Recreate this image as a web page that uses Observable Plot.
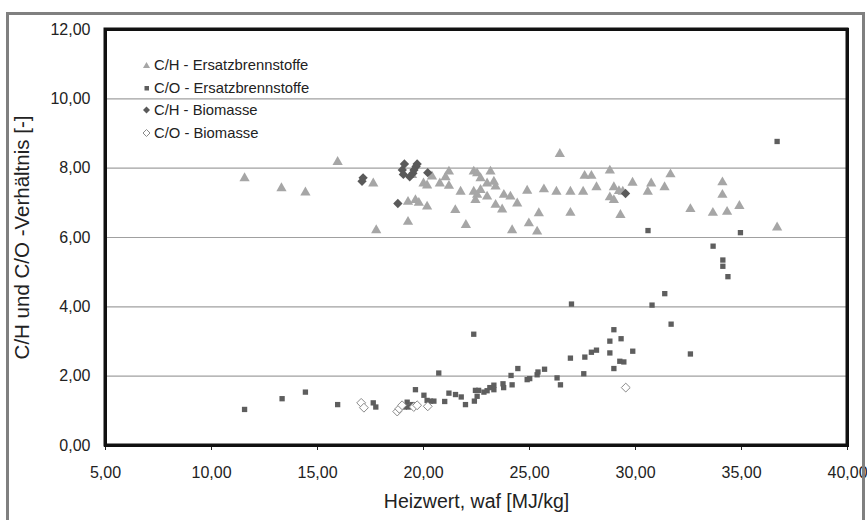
<!DOCTYPE html>
<html>
<head>
<meta charset="utf-8">
<script src="https://cdn.jsdelivr.net/npm/d3@7"></script>
<script src="https://cdn.jsdelivr.net/npm/@observablehq/plot@0.6"></script>
<style>
  html, body { margin: 0; padding: 0; background: #fff; }
  #wrap { position: relative; width: 867px; height: 520px; overflow: hidden; font-family: "Liberation Sans", Arial, sans-serif; }
  #border { position: absolute; left: 6px; top: 12px; width: 859px; height: 540px; border: 3px solid #808080; box-sizing: border-box; pointer-events: none; }
  #chart { position: absolute; left: 0; top: 0; }
  #legend { position: absolute; left: 140px; top: 54px; font-size: 14.8px; color: #222; line-height: 22.6px; }
  #legend div { display: flex; align-items: center; white-space: nowrap; }
  #legend svg { width: 13px; height: 12px; margin-right: 1px; }
</style>
</head>
<body>
<div id="wrap">
  <div id="chart"></div>
  <div id="legend"></div>
  <div id="border"></div>
</div>
<script>
// ---- data ----
const xDomain = [5, 40];
const yDomain = [0, 12];
const xTicks = [5, 10, 15, 20, 25, 30, 35, 40];
const yTicks = [0, 2, 4, 6, 8, 10, 12];
const gridY = [2, 4, 6, 8, 10];
const xTitle = "Heizwert, waf [MJ/kg]";
const yTitle = "C/H und C/O -Verhältnis [-]";
const seriesNames = ["C/H - Ersatzbrennstoffe", "C/O - Ersatzbrennstoffe", "C/H - Biomasse", "C/O - Biomasse"];

// C/H - Ersatzbrennstoffe (triangles)
const chEbsX = [11.56,13.3,14.43,15.95,17.63,17.77,19.27,19.27,19.46,19.62,19.78,20.0,20.17,20.17,20.4,20.77,21.04,21.2,21.2,21.5,21.75,22.0,22.37,22.53,22.69,22.37,22.53,22.45,22.69,23.16,23.0,23.32,23.4,23.0,23.4,23.79,24.1,23.71,24.42,24.18,24.89,25.44,24.97,25.36,25.68,26.27,26.43,26.93,26.93,27.53,27.6,27.92,28.16,28.79,28.79,28.98,28.98,29.22,29.29,29.4,29.86,30.58,30.74,31.37,31.65,32.59,33.65,34.1,34.1,34.32,34.9,36.68];
const chEbsY = [7.71,7.42,7.30,8.18,7.56,6.21,7.03,6.45,7.8,7.08,7.0,7.56,7.5,6.89,7.76,7.56,7.74,7.9,7.49,6.79,7.32,6.36,7.9,7.85,7.71,7.32,7.23,7.08,7.37,7.9,7.56,7.61,7.47,7.18,6.94,7.23,7.18,6.81,6.98,6.21,7.35,6.7,6.41,6.17,7.39,7.32,8.41,7.32,6.71,7.32,7.78,7.78,7.45,7.93,7.16,7.45,7.08,7.34,6.65,7.32,7.58,7.32,7.56,7.45,7.82,6.82,6.71,7.59,7.23,6.74,6.91,6.29];

// C/O - Ersatzbrennstoffe (squares)
const coEbsX = [11.56,13.33,14.43,15.95,17.63,17.75,19.1,19.23,19.3,19.46,19.62,20.02,20.17,20.33,20.49,20.72,21.0,21.2,21.51,21.78,21.98,22.37,22.4,22.53,22.45,22.6,22.85,23.0,23.13,23.32,23.32,23.75,23.78,24.13,24.18,24.45,24.89,25.01,25.36,25.4,25.71,26.3,26.46,26.93,26.98,27.56,27.61,27.92,28.16,28.79,28.79,28.98,28.98,29.26,29.32,29.45,29.87,30.59,30.78,31.38,31.68,32.59,33.66,34.12,34.12,34.36,34.95,36.68];
const coEbsY = [1.04,1.35,1.54,1.18,1.23,1.11,1.11,1.25,1.11,1.18,1.61,1.45,1.30,1.28,1.28,2.09,1.27,1.51,1.47,1.40,1.18,3.21,1.28,1.42,1.59,1.59,1.54,1.58,1.67,1.74,1.61,1.78,1.67,2.02,1.75,2.22,1.90,1.93,2.04,2.12,2.2,1.95,1.75,2.52,4.08,2.07,2.55,2.69,2.75,3.01,2.67,3.34,2.22,2.43,3.08,2.41,2.72,6.2,4.05,4.38,3.50,2.64,5.75,5.35,5.17,4.87,6.14,8.77];

// C/H - Biomasse (filled diamonds)
const chBioX = [17.1,17.15,18.79,19.0,19.05,19.1,19.35,19.5,19.55,19.65,19.7,20.2,29.53];
const chBioY = [7.62,7.72,6.98,7.95,7.82,8.12,7.75,7.85,7.95,8.05,8.12,7.87,7.27];

// C/O - Biomasse (open diamonds)
const coBioX = [17.06,17.19,18.76,18.86,18.99,19.54,19.7,20.2,29.54];
const coBioY = [1.23,1.09,0.98,1.06,1.16,1.11,1.16,1.13,1.67];

// ---- build ----
const zip = (xs, ys) => xs.map((x, i) => ({x, y: ys[i]}));
const fmt = d => d.toFixed(2).replace(".", ",");

const colTri = "#a6a6a6", colSq = "#5e5e5e", colDia = "#5a5a5a", colOpen = "#8a8a8a", colFrame = "#111111";

const chart = Plot.plot({
  width: 867,
  height: 520,
  marginLeft: 105,
  marginRight: 20,
  marginTop: 29,
  marginBottom: 75,
  style: {fontFamily: "'Liberation Sans', Arial, sans-serif", fontSize: "16px", color: "#222", background: "transparent"},
  x: {domain: xDomain},
  y: {domain: yDomain},
  marks: [
    Plot.ruleY(gridY, {stroke: "#a0a0a0", strokeWidth: 1.2}),
    Plot.axisX({ticks: xTicks, tickFormat: fmt, tickSize: 5, tickPadding: 16, label: null, fontSize: 16}),
    Plot.axisY({ticks: yTicks, tickFormat: fmt, tickSize: 0, tickPadding: 15, label: null, fontSize: 16}),
    Plot.dot(zip(chEbsX, chEbsY), {x: "x", y: "y", symbol: "triangle", r: 3.8, fill: colTri}),
    Plot.dot(zip(coEbsX, coEbsY), {x: "x", y: "y", symbol: "square", r: 3.0, fill: colSq}),
    Plot.dot(zip(chBioX, chBioY), {x: "x", y: "y", symbol: "diamond2", r: 4.2, fill: colDia}),
    Plot.dot(zip(coBioX, coBioY), {x: "x", y: "y", symbol: "diamond2", r: 4.0, fill: "white", stroke: colOpen, strokeWidth: 1}),
    Plot.text([xTitle], {frameAnchor: "bottom", lineAnchor: "middle", dy: 56, fontSize: 19.5, fill: "#222"}),
    Plot.text([yTitle], {frameAnchor: "left", textAnchor: "middle", lineAnchor: "middle", dx: -83, rotate: -90, fontSize: 20.5, fill: "#222"}),
    Plot.frame({stroke: colFrame, strokeWidth: 3, fill: "none"})
  ]
});
document.getElementById("chart").appendChild(chart);

// plot-area border drawn through the chart's own scales
const sx = chart.scale("x"), sy = chart.scale("y");
const x0 = sx.apply(xDomain[0]), x1 = sx.apply(xDomain[1]);
const y0 = sy.apply(yDomain[1]), y1 = sy.apply(yDomain[0]);
d3.select(chart).append("rect")
  .attr("x", x0).attr("y", y0)
  .attr("width", x1 - x0).attr("height", y1 - y0)
  .attr("fill", "none").attr("stroke", colFrame).attr("stroke-width", 3);

// legend (HTML overlay)
const legendSymbols = [
  `<svg viewBox="0 0 13 12"><path d="M6.5 3 L10 9 L3 9 Z" fill="${colTri}"/></svg>`,
  `<svg viewBox="0 0 13 12"><rect x="4.5" y="4" width="4.5" height="4.5" fill="${colSq}"/></svg>`,
  `<svg viewBox="0 0 13 12"><path d="M6.5 2.5 L10 6 L6.5 9.5 L3 6 Z" fill="${colDia}"/></svg>`,
  `<svg viewBox="0 0 13 12"><path d="M6.5 2.5 L10 6 L6.5 9.5 L3 6 Z" fill="#fff" stroke="${colOpen}" stroke-width="1"/></svg>`
];
const legend = document.getElementById("legend");
seriesNames.forEach((name, i) => {
  const row = document.createElement("div");
  row.innerHTML = legendSymbols[i] + `<span>${name}</span>`;
  legend.appendChild(row);
});
</script>
</body>
</html>
